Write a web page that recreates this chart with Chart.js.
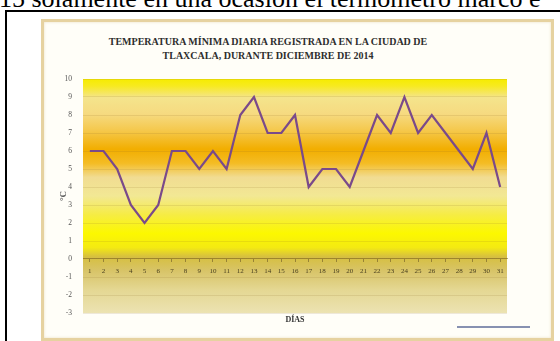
<!DOCTYPE html>
<html lang="es">
<head>
<meta charset="utf-8">
<title>Temperatura mínima diaria - Tlaxcala, diciembre 2014</title>
<script src="https://cdn.jsdelivr.net/npm/chart.js@4.4.1/dist/chart.umd.min.js"></script>
<style>
  html, body { margin: 0; padding: 0; background: #fff; }
  body { position: relative; width: 560px; height: 341px; overflow: hidden; }
  .texto {
    position: absolute; left: -1px; top: -14px;
    font: 26px/26px "Liberation Serif", "Times New Roman", serif;
    color: #000; white-space: nowrap;
  }
  .caja { position: absolute; left: 5px; top: 10px; width: 620px; height: 400px; border: 2px solid #000; }
  .marco {
    position: absolute; left: 41px; top: 19px; width: 507px; height: 316px;
    border: 3px solid #e6d2a0; background: #fffef8;
    box-shadow: inset 0 0 3px rgba(200, 170, 100, .35);
  }
  .titulo {
    position: absolute; left: 224px; top: 13px; transform: translateX(-50%);
    font: bold 10px/14px "Liberation Serif", "Times New Roman", serif;
    color: #2e2e2e; text-align: center; white-space: nowrap;
  }
  .marco canvas { position: absolute; left: 0; top: 0; }
</style>
</head>
<body>
<div class="texto">15 solamente en una ocasión el termómetro marcó e</div>
<div class="caja"></div>
<div class="marco">
  <div class="titulo">TEMPERATURA MÍNIMA DIARIA REGISTRADA EN LA CIUDAD DE<br>TLAXCALA, DURANTE DICIEMBRE DE 2014</div>
  <canvas id="graficaTemp" width="507" height="316"></canvas>
</div>

<script>
// días del mes y temperatura mínima registrada (°C)
const dias = ['1', '2', '3', '4', '5', '6', '7', '8', '9', '10', '11', '12', '13', '14', '15', '16',
              '17', '18', '19', '20', '21', '22', '23', '24', '25', '26', '27', '28', '29', '30', '31'];
const tempMinima = [6, 6, 5, 3, 2, 3, 6, 6, 5, 6, 5, 8, 9, 7, 7, 8,
                    4, 5, 5, 4, 6, 8, 7, 9, 7, 8, 7, 6, 5, 7, 4];
const ticksGrados = [-3, -2, -1, 0, 1, 2, 3, 4, 5, 6, 7, 8, 9, 10];

// degradado del área de trazado (de arriba hacia abajo)
const fondoDegradado = [
  [0.00, '#f6ec00'], [0.03, '#f7ea20'], [0.08, '#f4e48c'], [0.15, '#f6da80'],
  [0.22, '#f5c84c'], [0.30, '#f2ae00'], [0.36, '#f4bc24'], [0.42, '#f1dc92'],
  [0.50, '#f2e894'], [0.58, '#f6ec44'], [0.66, '#fcf800'], [0.72, '#f4ea12'],
  [0.76, '#d6bf40'], [0.82, '#d8c468'], [0.90, '#e4d792'], [1.00, '#ece3b2']
];

const fondoArea = {
  id: 'fondoArea',
  beforeDraw(chart) {
    const { ctx, chartArea: a } = chart;
    const g = ctx.createLinearGradient(0, a.top, 0, a.bottom);
    fondoDegradado.forEach(([p, c]) => g.addColorStop(p, c));
    ctx.save();
    ctx.fillStyle = g;
    ctx.fillRect(a.left, a.top, a.right - a.left, a.bottom - a.top);
    ctx.restore();
  }
};

// muestra de la serie en la esquina inferior derecha
const muestraSerie = {
  id: 'muestraSerie',
  afterDraw(chart) {
    const { ctx, chartArea: a } = chart;
    ctx.save();
    ctx.strokeStyle = '#5f6d9a';
    ctx.lineWidth = 1.5;
    ctx.beginPath();
    ctx.moveTo(a.right - 50, a.bottom + 14);
    ctx.lineTo(a.right + 23, a.bottom + 14);
    ctx.stroke();
    ctx.restore();
  }
};

const serif = 'Liberation Serif, Times New Roman, serif';

new Chart(document.getElementById('graficaTemp'), {
  type: 'line',
  data: {
    labels: dias,
    datasets: [{
      label: 'Temperatura mínima',
      data: tempMinima,
      borderColor: '#7a4a8a',
      borderWidth: 2.2,
      tension: 0,
      pointRadius: 0,
      fill: false
    }]
  },
  options: {
    responsive: false,
    animation: false,
    layout: { padding: { top: 57, right: 44, bottom: 0, left: 0 } },
    plugins: {
      legend: { display: false },
      title: { display: false },
      tooltip: { enabled: false }
    },
    scales: {
      x: {
        type: 'category',
        position: { y: 0 },
        offset: true,
        grid: { drawOnChartArea: false, drawTicks: true, tickLength: 3, color: 'rgba(110, 90, 40, 0.6)' },
        border: { display: true, color: 'rgba(120, 95, 30, 0.55)' },
        ticks: {
          autoSkip: false, maxRotation: 0, padding: 5,
          color: '#4a4020', font: { family: serif, size: 7 }
        }
      },
      x2: {
        type: 'category',
        position: 'bottom',
        offset: true,
        grid: { display: false, drawTicks: false },
        border: { display: false },
        ticks: { display: false },
        title: {
          display: true, text: 'DÍAS', color: '#333',
          font: { family: serif, size: 8, weight: 'bold' },
          padding: { top: 3, bottom: 13 }
        },
        afterFit(scale) { scale.height = 25; }
      },
      y: {
        min: -3,
        max: 10,
        afterBuildTicks(scale) { scale.ticks = ticksGrados.map(v => ({ value: v })); },
        grid: { color: 'rgba(140, 110, 40, 0.15)', drawTicks: false },
        border: { display: false },
        ticks: { padding: 11, color: '#555', font: { family: serif, size: 7.5 } },
        title: {
          display: true, text: '°C', color: '#555',
          font: { family: serif, size: 9, weight: 'bold' },
          padding: { top: 14, bottom: 0 }
        },
        afterFit(scale) { scale.width = 39; }
      }
    }
  },
  plugins: [fondoArea, muestraSerie]
});
</script>
</body>
</html>
